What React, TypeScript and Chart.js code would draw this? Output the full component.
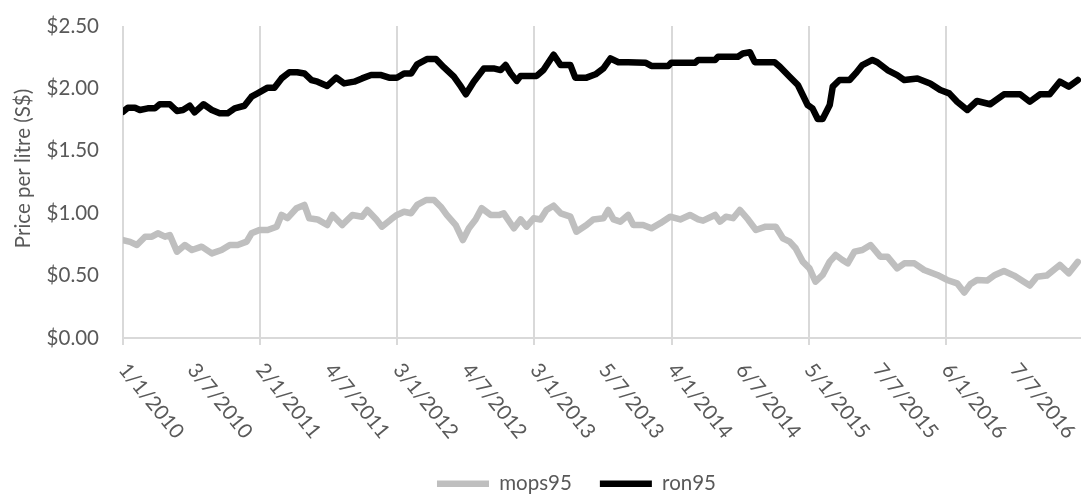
import React, { useEffect, useRef } from 'react';
import { Chart, registerables } from 'chart.js';

Chart.register(...registerables);

// ---- data (x = days since 1 Jan 2010) ----
const tickLabels = [
  '1/1/2010', '3/7/2010', '2/1/2011', '4/7/2011', '3/1/2012', '4/7/2012', '3/1/2013',
  '5/7/2013', '4/1/2014', '6/7/2014', '5/1/2015', '7/7/2015', '6/1/2016', '7/7/2016',
];
const tickStepDays = 183;
const gridStepDays = 366;
const xMaxDays = 2740;

const yTitle = 'Price per litre (S$)';

const mopsDays = [
  0, 19, 37, 59, 77, 93, 112, 125, 144, 165,
  184, 210, 237, 263, 285, 306, 330, 343, 364, 386,
  410, 423, 439, 463, 484, 497, 519, 545, 559, 585,
  612, 638, 652, 676, 691, 715, 731, 750, 769, 785,
  809, 830, 848, 864, 888, 907, 923, 941, 957, 981,
  1003, 1016, 1043, 1061, 1077, 1096, 1114, 1130, 1149, 1168,
  1194, 1210, 1237, 1255, 1282, 1295, 1309, 1327, 1348, 1362,
  1388, 1410, 1434, 1460, 1487, 1513, 1535, 1548, 1580, 1593,
  1609, 1628, 1646, 1668, 1689, 1715, 1742, 1761, 1779, 1795,
  1814, 1832, 1848, 1867, 1886, 1902, 1920, 1934, 1952, 1973,
  1995, 2021, 2040, 2066, 2085, 2112, 2138, 2173, 2199, 2226,
  2245, 2261, 2279, 2306, 2327, 2351, 2378, 2404, 2420, 2439,
  2465, 2500, 2524, 2548,
];
const mops95 = [
  0.785, 0.77, 0.745, 0.812, 0.812, 0.839, 0.812, 0.825, 0.692, 0.745,
  0.705, 0.732, 0.678, 0.705, 0.745, 0.745, 0.772, 0.839, 0.865, 0.865,
  0.892, 0.986, 0.96, 1.04, 1.066, 0.959, 0.95, 0.905, 0.986, 0.905,
  0.986, 0.972, 1.026, 0.95, 0.892, 0.95, 0.986, 1.012, 1.0, 1.066,
  1.106, 1.106, 1.052, 0.986, 0.905, 0.785, 0.879, 0.95, 1.04, 0.986,
  0.985, 0.999, 0.879, 0.95, 0.892, 0.959, 0.95, 1.026, 1.06, 0.999,
  0.972, 0.852, 0.905, 0.95, 0.959, 1.026, 0.95, 0.932, 0.986, 0.905,
  0.905, 0.879, 0.92, 0.972, 0.95, 0.986, 0.95, 0.94, 0.986, 0.932,
  0.972, 0.96, 1.026, 0.95, 0.865, 0.892, 0.892, 0.799, 0.772, 0.719,
  0.612, 0.558, 0.451, 0.505, 0.612, 0.665, 0.625, 0.598, 0.692, 0.705,
  0.745, 0.652, 0.652, 0.558, 0.598, 0.598, 0.545, 0.505, 0.465, 0.438,
  0.365, 0.43, 0.465, 0.46, 0.505, 0.537, 0.5, 0.451, 0.42, 0.491,
  0.5, 0.585, 0.518, 0.61,
];

const ronDays = [
  0, 13, 32, 45, 66, 85, 98, 125, 144, 160,
  178, 191, 215, 237, 258, 279, 298, 324, 343, 359,
  386, 404, 423, 444, 465, 484, 503, 519, 545, 569,
  590, 617, 638, 662, 689, 710, 731, 750, 769, 785,
  811, 835, 856, 883, 902, 915, 936, 963, 989, 1008,
  1021, 1035, 1051, 1061, 1104, 1122, 1149, 1168, 1194, 1207,
  1237, 1261, 1282, 1301, 1322, 1348, 1394, 1410, 1455, 1463,
  1527, 1535, 1580, 1588, 1641, 1654, 1673, 1686, 1739, 1753,
  1779, 1801, 1814, 1827, 1840, 1854, 1867, 1886, 1894, 1912,
  1939, 1955, 1973, 2000, 2013, 2040, 2066, 2085, 2120, 2154,
  2181, 2205, 2226, 2253, 2279, 2314, 2351, 2394, 2420, 2447,
  2473, 2500, 2524, 2548,
];
const ron95 = [
  1.813, 1.845, 1.845, 1.827, 1.84, 1.84, 1.873, 1.873, 1.819, 1.827,
  1.861, 1.808, 1.873, 1.827, 1.8, 1.8, 1.84, 1.861, 1.934, 1.96,
  2.006, 2.006, 2.08, 2.13, 2.13, 2.12, 2.067, 2.054, 2.02, 2.086,
  2.04, 2.054, 2.08, 2.107, 2.107, 2.086, 2.086, 2.12, 2.12, 2.193,
  2.235, 2.235, 2.17, 2.094, 2.014, 1.953, 2.054, 2.16, 2.16, 2.147,
  2.187, 2.12, 2.06, 2.1, 2.1, 2.147, 2.27, 2.187, 2.187, 2.086,
  2.086, 2.113, 2.16, 2.24, 2.21, 2.21, 2.206, 2.18, 2.18, 2.206,
  2.206, 2.228, 2.228, 2.254, 2.254, 2.28, 2.29, 2.21, 2.21, 2.174,
  2.094, 2.027, 1.947, 1.867, 1.84, 1.755, 1.755, 1.867, 2.014, 2.067,
  2.067, 2.12, 2.187, 2.228, 2.21, 2.147, 2.107, 2.067, 2.08, 2.04,
  1.987, 1.96, 1.893, 1.827, 1.899, 1.873, 1.953, 1.953, 1.893, 1.953,
  1.953, 2.054, 2.014, 2.067,
];

// ---- styling ----
const FONT_FAMILY = 'Lato';
const FONT_SIZE = 20.5;
const TEXT_COLOR = '#595959';
const GRID_COLOR = '#d9d9d9';
const LABEL_ANGLE_DEG = 51;

const CANVAS_W = 1153;
const CANVAS_H = 504;

const axisText = {
  id: 'axisText',
  afterDraw(chart: any) {
    const xs = chart.scales.x;
    const area = chart.chartArea;
    const ctx = chart.ctx;
    ctx.save();
    ctx.font = `${FONT_SIZE}px ${FONT_FAMILY}`;
    ctx.fillStyle = TEXT_COLOR;
    // slanted category labels
    ctx.textAlign = 'left';
    ctx.textBaseline = 'middle';
    tickLabels.forEach((label, i) => {
      const px = xs.getPixelForValue(i * tickStepDays);
      ctx.save();
      ctx.translate(px, area.bottom + 28);
      ctx.rotate((LABEL_ANGLE_DEG * Math.PI) / 180);
      ctx.fillText(label, 0, 0);
      ctx.restore();
    });
    // y axis title
    ctx.save();
    ctx.translate(23, (area.top + area.bottom) / 2 - 13.5);
    ctx.rotate(-Math.PI / 2);
    ctx.textAlign = 'center';
    ctx.fillText(yTitle, 0, 0);
    ctx.restore();
    ctx.restore();
  },
};

export default function App() {
  const canvasRef = useRef<HTMLCanvasElement | null>(null);

  useEffect(() => {
    document.body.style.margin = '0';
    const canvas = canvasRef.current;
    if (!canvas) return;
    Chart.defaults.font.family = FONT_FAMILY;

    const gridColor = (ctx: any) =>
      ctx.tick && ctx.tick.value % gridStepDays === 0 ? GRID_COLOR : 'rgba(0,0,0,0)';

    const chart = new Chart(canvas, {
      type: 'line',
      data: {
        datasets: [
          {
            label: 'mops95',
            data: mopsDays.map((d, i) => ({ x: d, y: mops95[i] })),
            borderColor: '#bfbfbf',
            backgroundColor: '#bfbfbf',
            borderWidth: 6.5,
            borderJoinStyle: 'round',
            borderCapStyle: 'round',
            pointRadius: 0,
            tension: 0,
          },
          {
            label: 'ron95',
            data: ronDays.map((d, i) => ({ x: d, y: ron95[i] })),
            borderColor: '#000000',
            backgroundColor: '#000000',
            borderWidth: 6.5,
            borderJoinStyle: 'round',
            borderCapStyle: 'round',
            pointRadius: 0,
            tension: 0,
          },
        ],
      },
      options: {
        responsive: false,
        animation: false,
        devicePixelRatio: 1,
        layout: { padding: { left: 0, right: 0, top: 26, bottom: 0 } },
        plugins: {
          tooltip: { enabled: false },
          legend: {
            position: 'bottom',
            labels: {
              usePointStyle: true,
              pointStyle: 'line',
              pointStyleWidth: 52,
              padding: 28,
              color: TEXT_COLOR,
              font: { family: FONT_FAMILY, size: FONT_SIZE },
            },
          },
        },
        scales: {
          x: {
            type: 'linear',
            min: 0,
            max: xMaxDays,
            afterBuildTicks: (scale: any) => {
              scale.ticks = tickLabels.map((_, i) => ({ value: i * tickStepDays }));
            },
            afterFit: (scale: any) => {
              scale.height = 107.5;
            },
            ticks: { display: false },
            grid: {
              display: true,
              color: gridColor,
              tickColor: gridColor,
              lineWidth: 2,
              drawTicks: true,
              tickLength: 7,
            },
            border: { display: true, color: GRID_COLOR, width: 2 },
          },
          y: {
            min: 0,
            max: 2.5,
            afterFit: (scale: any) => {
              scale.width = 123;
              scale.paddingTop = 0;
              scale.paddingBottom = 0;
            },
            ticks: {
              stepSize: 0.5,
              padding: 24,
              color: TEXT_COLOR,
              font: { family: FONT_FAMILY, size: FONT_SIZE },
              callback: (v: any) => '$' + Number(v).toFixed(2),
            },
            grid: { display: false, drawTicks: false },
            border: { display: false },
            title: { display: false },
          },
        },
      },
      plugins: [axisText],
    } as any);

    if ((document as any).fonts && (document as any).fonts.ready) {
      (document as any).fonts.ready.then(() => chart.update());
    }

    return () => chart.destroy();
  }, []);

  return (
    <div style={{ width: 1081, height: 494, overflow: 'hidden', position: 'relative' }}>
      <canvas ref={canvasRef} width={CANVAS_W} height={CANVAS_H} style={{ display: 'block' }} />
    </div>
  );
}
